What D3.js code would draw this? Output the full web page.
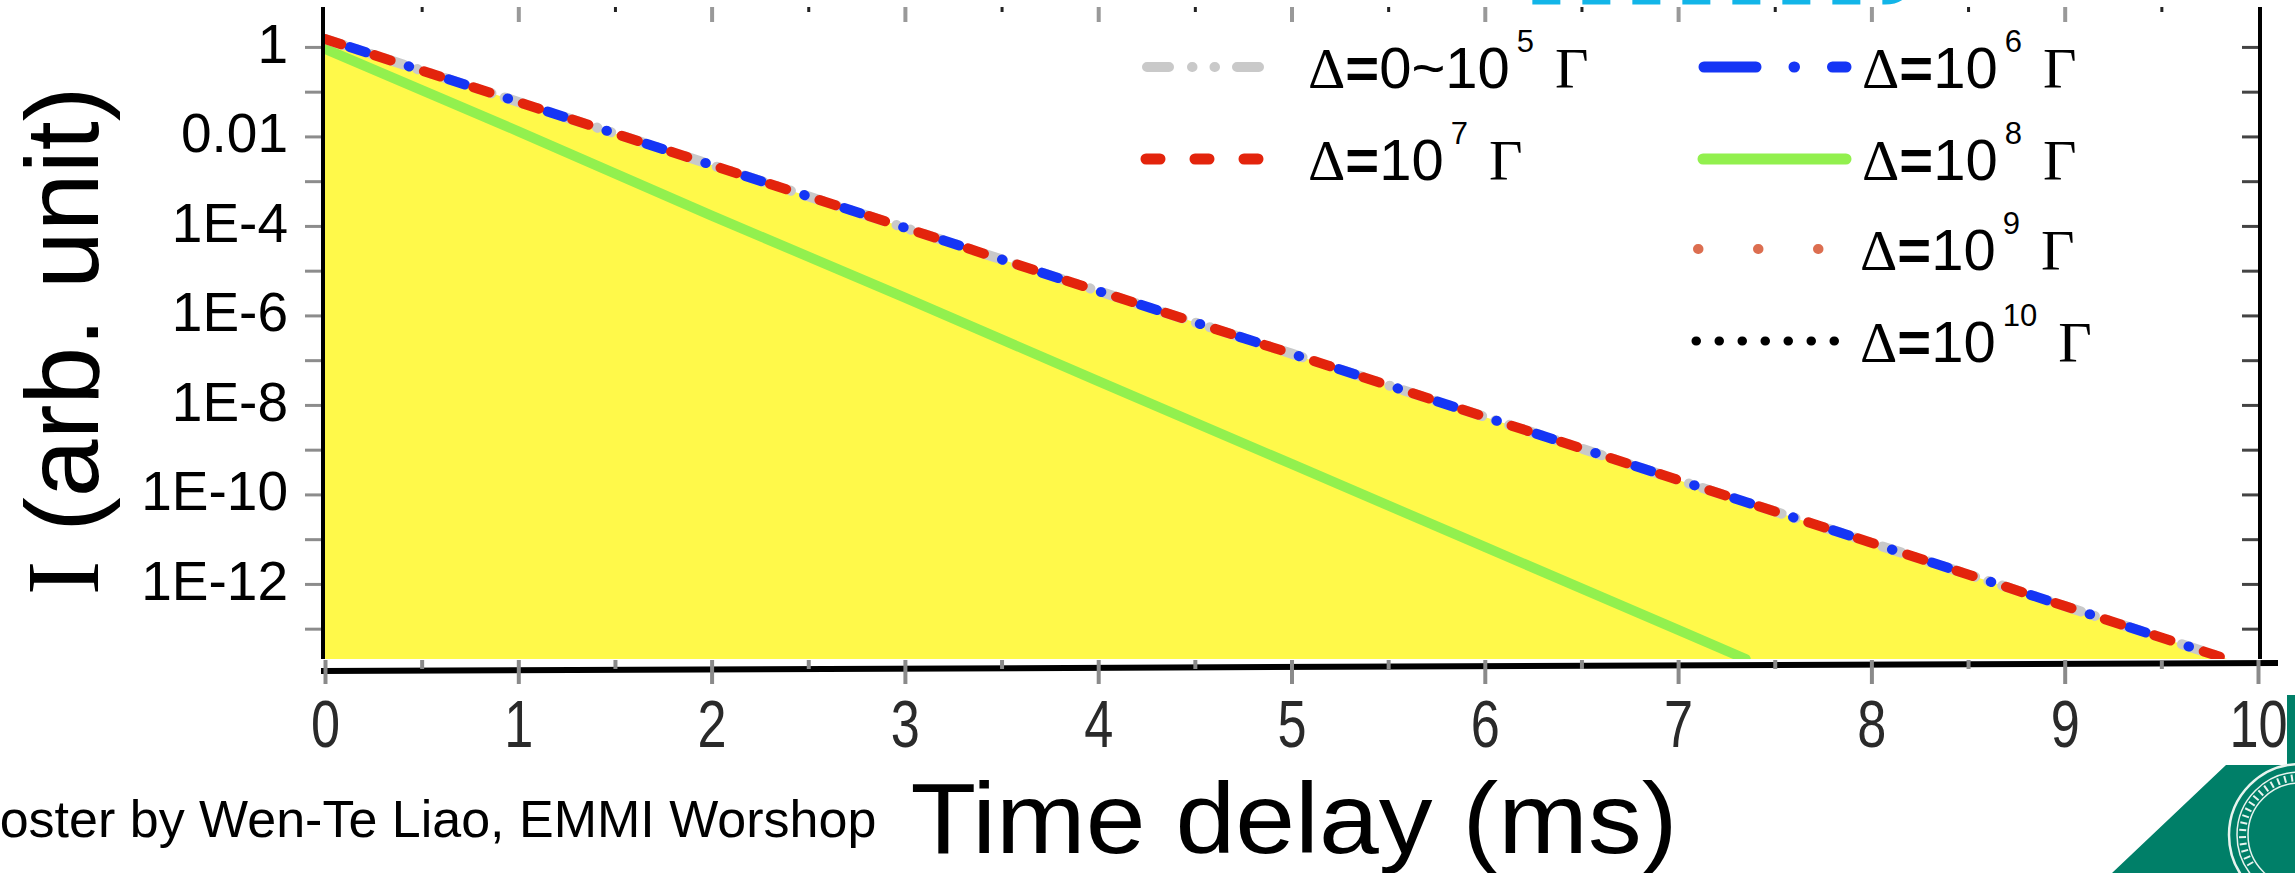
<!DOCTYPE html>
<html>
<head>
<meta charset="utf-8">
<script src="https://cdn.jsdelivr.net/npm/d3@7"></script>
<style>
  html, body { margin: 0; padding: 0; background: #fff; }
  svg { display: block; }
</style>
</head>
<body>
<svg id="chart" width="2295" height="873"></svg>
<script>
// values (time in ms, intensity in arb. units)
const timeMs = [0, 1, 2, 3, 4, 5, 6, 7, 8, 9, 9.84];
const intensity0to1e5 = [1.5, 5.9e-2, 2.3e-3, 9.1e-5, 3.5e-6, 1.4e-7, 5.4e-9, 2.1e-10, 8.3e-12, 3.2e-13, 2.1e-14];
const intensity1e6 = [1.5, 5.9e-2, 2.3e-3, 9.1e-5, 3.5e-6, 1.4e-7, 5.4e-9, 2.1e-10, 8.3e-12, 3.2e-13, 2.1e-14];
const intensity1e7 = [1.5, 5.9e-2, 2.3e-3, 9.1e-5, 3.5e-6, 1.4e-7, 5.4e-9, 2.1e-10, 8.3e-12, 3.2e-13, 2.1e-14];
const timeMs1e8 = [0, 1, 2, 3, 4, 5, 6, 7, 7.35];
const intensity1e8 = [0.9, 1.3e-2, 1.7e-4, 2.5e-6, 3.4e-8, 4.8e-10, 6.7e-12, 9.4e-14, 2.1e-14];

const xTickValues = [0, 1, 2, 3, 4, 5, 6, 7, 8, 9, 10];
const xMinorValues = [0.5, 1.5, 2.5, 3.5, 4.5, 5.5, 6.5, 7.5, 8.5, 9.5];
const yDecades = [1, 1e-1, 1e-2, 1e-3, 1e-4, 1e-5, 1e-6, 1e-7, 1e-8, 1e-9, 1e-10, 1e-11, 1e-12, 1e-13];
const yTickLabels = ['1', '', '0.01', '', '1E-4', '', '1E-6', '', '1E-8', '', '1E-10', '', '1E-12', ''];

const legendBase = ['=0~10', '=10', '=10', '=10', '=10', '=10'];
const legendExp = ['5', '6', '7', '8', '9', '10'];

const sans = "'Liberation Sans', Arial, Helvetica, sans-serif";
const serif = "'Liberation Serif', 'Times New Roman', serif";

const svg = d3.select('#chart')
  .style('font-family', sans);

const plot = { left: 323, right: 2260, top: 7, bottom: 659 };

const x = d3.scaleLinear()
  .domain([0, 10])
  .range([325, 2258]);

const y = d3.scaleLog()
  .domain([2.1e-14, 7.8])
  .range([plot.bottom, plot.top]);

svg.append('defs')
  .append('clipPath')
  .attr('id', 'plot-clip')
  .append('rect')
  .attr('x', plot.left)
  .attr('y', plot.top)
  .attr('width', plot.right - plot.left)
  .attr('height', plot.bottom - plot.top);

// cyan dashed frame from the poster, only its lower edge is visible
svg.append('path')
  .attr('d', 'M1503,-30 Q1503,2 1530,2 L1885,2 Q1912,2 1912,-30')
  .attr('fill', 'none')
  .attr('stroke', '#12b5e8')
  .attr('stroke-width', 5)
  .attr('stroke-dasharray', '28,22');

const main = d3.zip(timeMs, intensity1e7);
const plotArea = svg.append('g').attr('clip-path', 'url(#plot-clip)');

const area = d3.area()
  .x(d => x(d[0]))
  .y0(plot.bottom)
  .y1(d => y(d[1]));

plotArea.append('path')
  .datum(main)
  .attr('d', area)
  .attr('fill', '#fff94a');

const line = d3.line()
  .x(d => x(d[0]))
  .y(d => y(d[1]));

// blue dash fills every other gap of the red dashes, a blue dot sits in the next one
const seriesStyles = [
  { data: d3.zip(timeMs1e8, intensity1e8), color: '#92f04e', width: 10, dash: null, offset: 0 },
  { data: d3.zip(timeMs, intensity0to1e5), color: '#c9c9c9', width: 10, dash: '20,14,0.5,14,0.5,14', offset: 0 },
  { data: d3.zip(timeMs, intensity1e6), color: '#1535f5', width: 10, dash: '17,45,0.5,41.5', offset: 78 },
  { data: d3.zip(timeMs, intensity1e7), color: '#e3240c', width: 10, dash: '17,35', offset: 0 },
];

seriesStyles.forEach((s) => {
  plotArea.append('path')
    .datum(s.data)
    .attr('d', line)
    .attr('fill', 'none')
    .attr('stroke', s.color)
    .attr('stroke-width', s.width)
    .attr('stroke-linecap', 'round')
    .attr('stroke-dasharray', s.dash)
    .attr('stroke-dashoffset', s.offset);
});

// y axes
const yMinors = y.ticks().filter(v => yDecades.indexOf(v) < 0 && v < 7.8);

const leftMajor = svg.append('g')
  .attr('transform', `translate(${plot.left},0)`)
  .call(d3.axisLeft(y)
    .tickValues(yDecades)
    .tickSize(18)
    .tickPadding(17)
    .tickFormat((d, i) => yTickLabels[i]));
leftMajor.select('.domain').remove();
leftMajor.selectAll('line').attr('stroke', '#8c8c8c').attr('stroke-width', 3);
leftMajor.selectAll('text')
  .attr('font-size', 55)
  .attr('font-family', sans)
  .attr('fill', '#000')
  .attr('dy', '0.28em');

const leftMinor = svg.append('g')
  .attr('transform', `translate(${plot.left + 3},0)`)
  .call(d3.axisLeft(y).tickValues(yMinors).tickSize(11).tickFormat(''));
leftMinor.select('.domain').remove();
leftMinor.selectAll('line').attr('stroke', '#222').attr('stroke-width', 2);

const rightMajor = svg.append('g')
  .attr('transform', `translate(${plot.right},0)`)
  .call(d3.axisLeft(y).tickValues(yDecades).tickSize(18).tickFormat(''));
rightMajor.select('.domain').remove();
rightMajor.selectAll('line').attr('stroke', '#444').attr('stroke-width', 3);

const rightMinor = svg.append('g')
  .attr('transform', `translate(${plot.right},0)`)
  .call(d3.axisLeft(y).tickValues(yMinors).tickSize(9).tickFormat(''));
rightMinor.select('.domain').remove();
rightMinor.selectAll('line').attr('stroke', '#111').attr('stroke-width', 2);

[plot.left, plot.right].forEach((px) => {
  svg.append('line')
    .attr('x1', px).attr('x2', px)
    .attr('y1', plot.top).attr('y2', plot.bottom)
    .attr('stroke', '#000')
    .attr('stroke-width', 4);
});

// top ticks (no axis line)
const topMajor = svg.append('g')
  .attr('transform', `translate(0,${plot.top})`)
  .call(d3.axisTop(x).tickValues(xTickValues.slice(1, -1)).tickSize(-15).tickFormat(''));
topMajor.select('.domain').remove();
topMajor.selectAll('line').attr('stroke', '#999').attr('stroke-width', 4);

const topMinor = svg.append('g')
  .attr('transform', `translate(0,${plot.top})`)
  .call(d3.axisTop(x).tickValues(xMinorValues).tickSize(-5).tickFormat(''));
topMinor.select('.domain').remove();
topMinor.selectAll('line').attr('stroke', '#222').attr('stroke-width', 3);

// bottom axis: the thick base line is slightly tilted in the scan
svg.append('line')
  .attr('x1', 321).attr('y1', 671)
  .attr('x2', 2278).attr('y2', 663)
  .attr('stroke', '#000')
  .attr('stroke-width', 6);

const bottomMajor = svg.append('g')
  .attr('transform', `translate(0,${plot.bottom + 1})`)
  .call(d3.axisBottom(x).tickValues(xTickValues).tickSize(24).tickFormat(d3.format('d')));
bottomMajor.select('.domain').remove();
bottomMajor.selectAll('line').attr('stroke', '#8a8a8a').attr('stroke-width', 4);
bottomMajor.selectAll('text')
  .attr('y', 87)
  .attr('dy', null)
  .attr('font-size', 67)
  .attr('font-family', sans)
  .attr('fill', '#2a2a2a')
  .attr('transform', 'scale(0.78,1)');

const bottomMinor = svg.append('g')
  .attr('transform', `translate(0,${plot.bottom + 1})`)
  .call(d3.axisBottom(x).tickValues(xMinorValues).tickSize(9).tickFormat(''));
bottomMinor.select('.domain').remove();
bottomMinor.selectAll('line').attr('stroke', '#8a8a8a').attr('stroke-width', 4);

// legend
const legendLayout = [
  { lx1: 1147, lx2: 1277, tx: 1308, base: 88, color: '#c9c9c9', width: 10, dash: '22,23,0.5,22,0.5,22' },
  { lx1: 1704, lx2: 1846, tx: 1862, base: 88, color: '#1535f5', width: 11, dash: '52,38,0.5,38' },
  { lx1: 1146, lx2: 1258, tx: 1308, base: 180, color: '#e3240c', width: 11, dash: '14,35' },
  { lx1: 1703, lx2: 1846, tx: 1862, base: 180, color: '#92f04e', width: 11, dash: null },
  { lx1: 1698, lx2: 1820, tx: 1860, base: 270, color: '#dc6e50', width: 10, dash: '0.5,59.5' },
  { lx1: 1696, lx2: 1835, tx: 1860, base: 362, color: '#000', width: 9, dash: '0.5,22.5' },
];

const legend = svg.append('g');
legendLayout.forEach((l, i) => {
  const ly = l.base - 21;
  legend.append('line')
    .attr('x1', l.lx1).attr('x2', l.lx2)
    .attr('y1', ly).attr('y2', ly)
    .attr('stroke', l.color)
    .attr('stroke-width', l.width)
    .attr('stroke-linecap', 'round')
    .attr('stroke-dasharray', l.dash);

  const t = legend.append('text')
    .attr('x', l.tx)
    .attr('y', l.base)
    .attr('font-size', 58)
    .attr('fill', '#000');
  t.append('tspan').attr('font-family', serif).text('\u0394');
  t.append('tspan').attr('font-weight', 'bold').text(legendBase[i].slice(0, 1));
  t.append('tspan').text(legendBase[i].slice(1));
  t.append('tspan').attr('font-size', 31).attr('dx', 7).attr('dy', -36).text(legendExp[i]);
  t.append('tspan').attr('font-family', serif).attr('dx', 21).attr('dy', 36).text('\u0393');
});

// axis titles
const yTitle = svg.append('text')
  .attr('transform', 'translate(98,341) rotate(-90)')
  .attr('text-anchor', 'middle')
  .attr('font-size', 104)
  .attr('fill', '#000');
yTitle.append('tspan').attr('font-family', serif).text('I');
yTitle.append('tspan').text(' (arb. unit)');

svg.append('text')
  .attr('x', 1294)
  .attr('y', 853)
  .attr('text-anchor', 'middle')
  .attr('font-size', 100)
  .attr('textLength', 767)
  .attr('lengthAdjust', 'spacingAndGlyphs')
  .attr('fill', '#000')
  .text('Time delay (ms)');

svg.append('text')
  .attr('x', -35)
  .attr('y', 837)
  .attr('font-size', 52)
  .attr('fill', '#000')
  .text('Poster by Wen-Te Liao, EMMI Worshop');

// university logo corner
const logo = svg.append('g');
logo.append('path')
  .attr('d', 'M2287,695 L2295,695 L2295,873 L2112,873 L2226,765 L2287,765 Z')
  .attr('fill', '#007f68');
[71, 63, 52].forEach((r) => {
  logo.append('circle')
    .attr('cx', 2300).attr('cy', 835).attr('r', r)
    .attr('fill', 'none')
    .attr('stroke', '#e8f4ef')
    .attr('stroke-width', r === 71 ? 2.5 : 1.5);
});
d3.range(150, 280, 7).forEach((deg) => {
  const a = deg * Math.PI / 180;
  logo.append('line')
    .attr('x1', 2300 + 54 * Math.cos(a)).attr('y1', 835 + 54 * Math.sin(a))
    .attr('x2', 2300 + 61 * Math.cos(a)).attr('y2', 835 + 61 * Math.sin(a))
    .attr('stroke', '#e8f4ef')
    .attr('stroke-width', 2);
});
</script>
</body>
</html>
